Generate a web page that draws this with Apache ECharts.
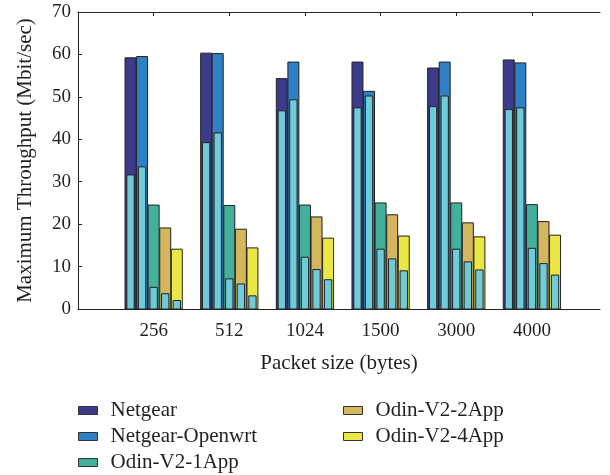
<!DOCTYPE html>
<html>
<head>
<meta charset="utf-8">
<script src="https://cdn.jsdelivr.net/npm/echarts@6/dist/echarts.min.js"></script>
<style>
  html, body { margin: 0; padding: 0; background: #fff; }
  #chart { width: 610px; height: 475px; }
</style>
</head>
<body>
<div id="chart"></div>
<script>
// packet sizes on the x axis
const packetSizes = ["256", "512", "1024", "1500", "3000", "4000"];
const seriesNames = ["Netgear", "Netgear-Openwrt", "Odin-V2-1App", "Odin-V2-2App", "Odin-V2-4App"];
const yTicks = [0, 10, 20, 30, 40, 50, 60, 70];

// max throughput (outer bars) and the inner (cyan) bars, Mbit/sec
const netgearOuter = [59.2, 60.3, 54.3, 58.2, 56.8, 58.7];
const netgearInner = [31.6, 39.2, 46.7, 47.4, 47.7, 47.0];
const openwrtOuter = [59.5, 60.2, 58.2, 51.3, 58.2, 58.0];
const openwrtInner = [33.5, 41.5, 49.3, 50.2, 50.2, 47.4];
const odin1Outer = [24.5, 24.4, 24.5, 25.0, 25.0, 24.6];
const odin1Inner = [5.1, 7.1, 12.2, 14.1, 14.1, 14.3];
const odin2Outer = [19.1, 18.8, 21.7, 22.2, 20.3, 20.6];
const odin2Inner = [3.6, 5.9, 9.3, 11.8, 11.1, 10.7];
const odin4Outer = [14.1, 14.4, 16.7, 17.2, 17.0, 17.4];
const odin4Inner = [2.0, 3.1, 6.9, 9.0, 9.2, 8.0];

const outerValues = [netgearOuter, openwrtOuter, odin1Outer, odin2Outer, odin4Outer];
const innerValues = [netgearInner, openwrtInner, odin1Inner, odin2Inner, odin4Inner];
const colors = ["#3d3a8b", "#2f80c6", "#42b09b", "#d3b65e", "#ece843"];
const innerColor = "#70cbd8";

const FONT = "Liberation Serif";
const TEXT = "#231f20";

// bar geometry in x-axis units (one unit = one packet size group)
const pitch = 0.153;
const outerW = 0.145;
const innerW = 0.097;

const chart = echarts.init(document.getElementById("chart"));

const series = seriesNames.map((name, s) => ({
  name,
  type: "custom",
  xAxisIndex: 0,
  yAxisIndex: 0,
  itemStyle: { color: colors[s], borderColor: "#333", borderWidth: 1 },
  data: packetSizes.map((_, i) => [i + 1, outerValues[s][i], innerValues[s][i]]),
  renderItem: (params, api) => {
    const cx = api.value(0) + (s - 2) * pitch;
    const o1 = api.coord([cx - outerW / 2, api.value(1)]);
    const o2 = api.coord([cx + outerW / 2, 0]);
    const i1 = api.coord([cx - innerW / 2, api.value(2)]);
    const i2 = api.coord([cx + innerW / 2, 0]);
    return {
      type: "group",
      children: [
        {
          type: "rect",
          shape: { x: o1[0], y: o1[1], width: o2[0] - o1[0], height: o2[1] - o1[1] },
          style: { fill: colors[s], stroke: "#222", lineWidth: 1 }
        },
        {
          type: "rect",
          shape: { x: i1[0], y: i1[1], width: i2[0] - i1[0], height: i2[1] - i1[1] },
          style: { fill: innerColor, stroke: "#222", lineWidth: 1 }
        }
      ]
    };
  }
}));

const legendBase = {
  orient: "vertical",
  height: 120,
  itemWidth: 19,
  itemHeight: 8,
  itemGap: 5,
  icon: "rect",
  itemStyle: { borderColor: "#333", borderWidth: 1 },
  textStyle: { fontFamily: FONT, fontSize: 21, color: TEXT, padding: [0, 0, 0, 8] },
  selectedMode: false
};

const option = {
  animation: false,
  backgroundColor: "#fff",
  grid: { left: 78, right: 10, top: 12, bottom: 166 },
  legend: [
    Object.assign({}, legendBase, { left: 73, top: 395, data: seriesNames.slice(0, 3) }),
    Object.assign({}, legendBase, { left: 338, top: 395, data: seriesNames.slice(3) })
  ],
  xAxis: [
    {
      type: "value",
      position: "bottom",
      min: 0,
      max: 6.9,
      interval: 1,
      name: "Packet size (bytes)",
      nameLocation: "middle",
      nameGap: 44,
      nameTextStyle: { fontFamily: FONT, fontSize: 21, color: TEXT },
      axisLine: { show: true, lineStyle: { color: "#222", width: 1 } },
      axisTick: { show: true, inside: true, length: 4, customValues: [1, 2, 3, 4, 5, 6], lineStyle: { color: "#222" } },
      axisLabel: {
        customValues: [1, 2, 3, 4, 5, 6],
        formatter: v => packetSizes[Math.round(v) - 1] || "",
        fontFamily: FONT,
        fontSize: 19,
        color: TEXT,
        margin: 13
      },
      splitLine: { show: false }
    },
    {
      type: "value",
      position: "top",
      min: 0,
      max: 6.9,
      interval: 1,
      axisLine: { show: true, lineStyle: { color: "#222", width: 1 } },
      axisTick: { show: true, inside: true, length: 4, customValues: [1, 2, 3, 4, 5, 6], lineStyle: { color: "#222" } },
      axisLabel: { show: false },
      splitLine: { show: false }
    }
  ],
  yAxis: {
    type: "value",
    min: 0,
    max: 70,
    interval: 10,
    name: "Maximum Throughput (Mbit/sec)",
    nameLocation: "middle",
    nameGap: 42,
    nameTextStyle: { fontFamily: FONT, fontSize: 21, color: TEXT },
    axisLine: { show: true, lineStyle: { color: "#222", width: 1 } },
    axisTick: { show: true, inside: true, length: 4, customValues: yTicks, lineStyle: { color: "#222" } },
    axisLabel: { fontFamily: FONT, fontSize: 19, color: TEXT, margin: 7 },
    splitLine: { show: false }
  },
  series
};

chart.setOption(option);
</script>
</body>
</html>
